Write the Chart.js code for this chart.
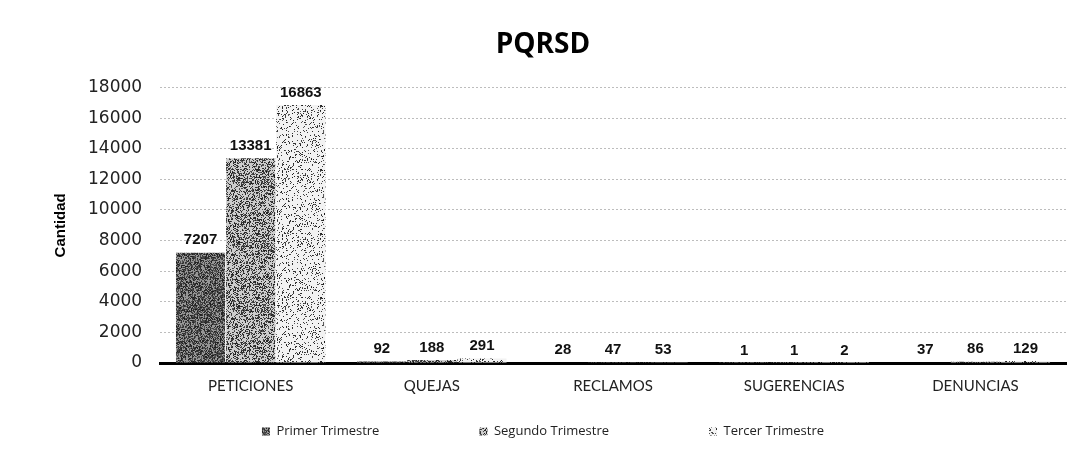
<!DOCTYPE html>
<html>
<head>
<meta charset="utf-8">
<script src="https://cdn.jsdelivr.net/npm/chart.js@4/dist/chart.umd.min.js"></script>
<style>
  html, body { margin: 0; padding: 0; background: #fff; }
  #wrap { width: 1088px; height: 452px; }
</style>
</head>
<body>
<div id="wrap"><canvas id="grafico"></canvas></div>
<script>
const categorias = ['PETICIONES', 'QUEJAS', 'RECLAMOS', 'SUGERENCIAS', 'DENUNCIAS'];
const primerTrimestre = [7207, 92, 28, 1, 37];
const segundoTrimestre = [13381, 188, 47, 1, 86];
const tercerTrimestre = [16863, 291, 53, 2, 129];

// textura punteada (como la impresion escaneada), sin azar: hash fijo por pixel
function texturaPunteada(densidad, claro) {
    const N = 64;
    const c = document.createElement('canvas');
    c.width = N; c.height = N;
    const g = c.getContext('2d');
    const img = g.createImageData(N, N);
    for (let y = 0; y < N; y++) {
        for (let x = 0; x < N; x++) {
            let h = (Math.imul(x + 1, 73856093) ^ Math.imul(y + 7, 19349663)) | 0;
            h = Math.imul(h ^ (h >>> 16), 0x45d9f3b);
            h = Math.imul(h ^ (h >>> 16), 0x45d9f3b);
            h = (h ^ (h >>> 16)) >>> 0;
            const v = (h % 1000) / 1000;
            const tono = v < densidad ? 25 + (h >>> 20) % 70 : claro;
            const k = (y * N + x) * 4;
            img.data[k] = img.data[k + 1] = img.data[k + 2] = tono;
            img.data[k + 3] = 255;
        }
    }
    g.putImageData(img, 0, 0);
    return g.createPattern(c, 'repeat');
}

// etiquetas de valor encima de cada barra
const etiquetasValor = {
    id: 'etiquetasValor',
    afterDatasetsDraw(chart) {
        const ctx = chart.ctx;
        ctx.save();
        ctx.font = 'bold 15px "Liberation Sans", Arial, sans-serif';
        ctx.fillStyle = '#111';
        ctx.textAlign = 'center';
        ctx.textBaseline = 'bottom';
        chart.data.datasets.forEach((ds, i) => {
            const meta = chart.getDatasetMeta(i);
            meta.data.forEach((barra, j) => {
                ctx.fillText(ds.data[j], barra.x, barra.y - 5);
            });
        });
        ctx.restore();
    }
};

// la leyenda necesita mucho espacio horizontal entre items pero poco vertical
const RECORTE_LEYENDA = 76;
const ajusteLeyenda = {
    id: 'ajusteLeyenda',
    afterInit(chart) {
        const leyenda = chart.legend;
        if (!leyenda) return;
        const fitOriginal = leyenda.fit;
        leyenda.fit = function () {
            fitOriginal.call(this);
            this.height -= RECORTE_LEYENDA;
        };
        const drawOriginal = leyenda.draw;
        leyenda.draw = function () {
            this.top -= RECORTE_LEYENDA;
            drawOriginal.call(this);
            this.top += RECORTE_LEYENDA;
        };
    }
};

const ctx = document.getElementById('grafico').getContext('2d');
new Chart(ctx, {
    type: 'bar',
    data: {
        labels: categorias,
        datasets: [
            { label: 'Primer Trimestre', data: primerTrimestre, backgroundColor: texturaPunteada(0.62, 150) },
            { label: 'Segundo Trimestre', data: segundoTrimestre, backgroundColor: texturaPunteada(0.42, 205) },
            { label: 'Tercer Trimestre', data: tercerTrimestre, backgroundColor: texturaPunteada(0.16, 242) }
        ]
    },
    options: {
        responsive: true,
        maintainAspectRatio: false,
        animation: false,
        layout: { padding: { left: 20, right: 22, top: 8, bottom: 4 } },
        datasets: {
            bar: { barPercentage: 0.98, categoryPercentage: 0.83 }
        },
        plugins: {
            title: {
                display: true,
                text: 'PQRSD',
                color: '#000',
                font: { family: '"Open Sans", sans-serif', size: 28, weight: 'bold' },
                padding: { top: 20, bottom: 26 }
            },
            legend: {
                position: 'bottom',
                labels: {
                    color: '#222',
                    font: { family: '"Open Sans", sans-serif', size: 13 },
                    boxWidth: 8,
                    boxHeight: 8,
                    padding: 100
                }
            },
            tooltip: { enabled: false }
        },
        scales: {
            x: {
                grid: { display: false },
                border: { color: '#000', width: 3 },
                ticks: {
                    color: '#222',
                    padding: 6,
                    font: { family: 'Lato, sans-serif', size: 15 }
                }
            },
            y: {
                min: 0,
                max: 18000,
                ticks: {
                    stepSize: 2000,
                    color: '#222',
                    padding: 18,
                    font: { family: '"DejaVu Sans", sans-serif', size: 17 },
                    callback: (valor) => String(valor)
                },
                grid: { color: '#bdbdbd', lineWidth: 1, drawTicks: false },
                border: { display: false, dash: [2, 2] },
                title: {
                    display: true,
                    text: 'Cantidad',
                    color: '#000',
                    padding: { top: 32, bottom: 0 },
                    font: { family: '"Liberation Sans Narrow", "Liberation Sans", sans-serif', size: 15, weight: 'bold' }
                }
            }
        }
    },
    plugins: [etiquetasValor, ajusteLeyenda]
});
</script>
</body>
</html>
